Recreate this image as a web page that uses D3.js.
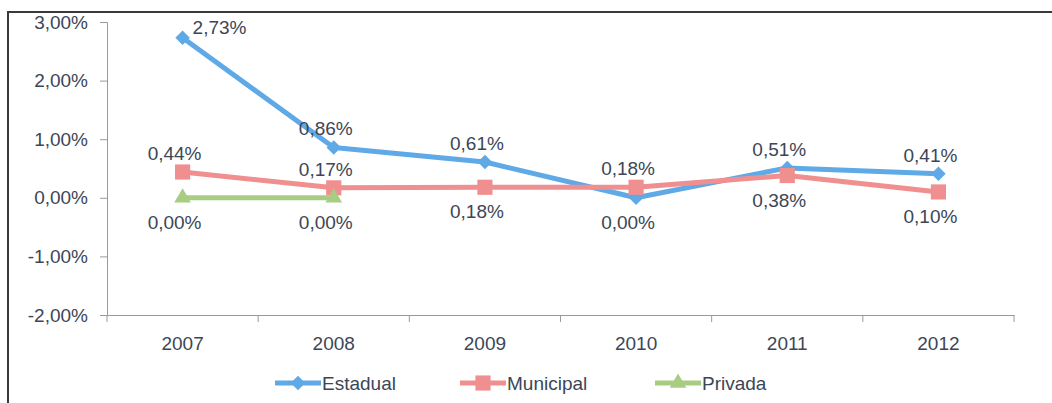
<!DOCTYPE html>
<html>
<head>
<meta charset="utf-8">
<script src="https://cdn.jsdelivr.net/npm/d3@7"></script>
<style>
  body { margin: 0; background: #fff; }
  svg text { font-family: "Liberation Sans Narrow", "Liberation Sans", sans-serif; fill: #3c4656; }
</style>
</head>
<body>
<svg id="chart" width="1052" height="403"></svg>
<script>
const years = ["2007", "2008", "2009", "2010", "2011", "2012"];
const estadual = [2.73, 0.86, 0.61, 0.00, 0.51, 0.41];
const municipal = [0.44, 0.17, 0.18, 0.18, 0.38, 0.10];
const privada = [0.00, 0.00];
const yTicks = [3, 2, 1, 0, -1, -2];

// where each data label sits relative to its point
const estadualPos = ["right", "above", "above", "below", "above", "above"];
const municipalPos = ["above", "above", "below", "above", "below", "below"];
const privadaPos = ["below", "below"];

const series = [
  {name: "Estadual", values: estadual, pos: estadualPos, color: "#5fa9e6", symbol: d3.symbolSquare, size: 105, rot: 45},
  {name: "Municipal", values: municipal, pos: municipalPos, color: "#f08f8f", symbol: d3.symbolSquare, size: 230, rot: 0},
  {name: "Privada", values: privada, pos: privadaPos, color: "#a9cc83", symbol: d3.symbolTriangle, size: 120, rot: 0}
];

const svg = d3.select("#chart");
const fmt = v => v.toFixed(2).replace(".", ",") + "%";

// scanned frame (top and left edges only)
svg.append("path")
  .attr("d", "M8,403 L8,12 L1052,12")
  .attr("fill", "none")
  .attr("stroke", "#3a3a3a")
  .attr("stroke-width", 2);

const x = d3.scaleBand().domain(years).range([107, 1014]);
const y = d3.scaleLinear().domain([-2, 3]).range([315, 22]);

// y axis
const yAxis = svg.append("g")
  .attr("transform", "translate(107,0)")
  .call(d3.axisLeft(y).tickValues(yTicks).tickSize(7).tickPadding(12).tickFormat(fmt));
yAxis.select(".domain").attr("stroke", "#9a9a9a");
yAxis.selectAll(".tick line").attr("stroke", "#9a9a9a");
yAxis.selectAll(".tick text").attr("font-size", 19).attr("fill", "#3c4656")
  .attr("font-family", "'Liberation Sans Narrow', 'Liberation Sans', sans-serif");

// x axis at the bottom of the plot
const xAxis = svg.append("g")
  .attr("transform", "translate(0," + y(-2) + ")")
  .call(d3.axisBottom(x).tickSize(0).tickPadding(22));
xAxis.select(".domain").attr("stroke", "#9a9a9a");
xAxis.selectAll(".tick text").attr("font-size", 19).attr("fill", "#3c4656")
  .attr("font-family", "'Liberation Sans Narrow', 'Liberation Sans', sans-serif");
// category boundary ticks
svg.append("g").selectAll("line")
  .data(years.concat(["end"]))
  .join("line")
  .attr("x1", (d, i) => i < years.length ? x(d) : x.range()[1])
  .attr("x2", (d, i) => i < years.length ? x(d) : x.range()[1])
  .attr("y1", y(-2))
  .attr("y2", y(-2) + 7)
  .attr("stroke", "#9a9a9a");

const cx = (d, i) => x(years[i]) + x.bandwidth() / 2;
const line = d3.line().x((d, i) => cx(d, i)).y(d => y(d));

series.forEach(s => {
  svg.append("path")
    .datum(s.values)
    .attr("d", line)
    .attr("fill", "none")
    .attr("stroke", s.color)
    .attr("stroke-width", 5)
    .attr("stroke-linejoin", "round");

  svg.append("g").selectAll("path")
    .data(s.values)
    .join("path")
    .attr("d", d3.symbol().type(s.symbol).size(s.size))
    .attr("transform", (d, i) => "translate(" + cx(d, i) + "," + y(d) + ") rotate(" + s.rot + ")")
    .attr("fill", s.color);

  svg.append("g").selectAll("text")
    .data(s.values)
    .join("text")
    .attr("x", (d, i) => s.pos[i] === "right" ? cx(d, i) + 10 : cx(d, i) - 8)
    .attr("y", (d, i) => s.pos[i] === "above" ? y(d) - 12 : s.pos[i] === "below" ? y(d) + 31 : y(d) - 4)
    .attr("text-anchor", (d, i) => s.pos[i] === "right" ? "start" : "middle")
    .attr("font-size", 19)
    .text(fmt);
});

// legend
const legendX = [275, 460, 655];
const legend = svg.append("g").selectAll("g")
  .data(series)
  .join("g")
  .attr("transform", (d, i) => "translate(" + legendX[i] + ",383)");
legend.append("line")
  .attr("x1", 0).attr("x2", 46)
  .attr("stroke", d => d.color)
  .attr("stroke-width", 5);
legend.append("path")
  .attr("d", d => d3.symbol().type(d.symbol).size(d.size)())
  .attr("transform", d => "translate(23,0) rotate(" + d.rot + ")")
  .attr("fill", d => d.color);
legend.append("text")
  .attr("x", 47)
  .attr("y", 7)
  .attr("font-size", 19)
  .text(d => d.name);
</script>
</body>
</html>
